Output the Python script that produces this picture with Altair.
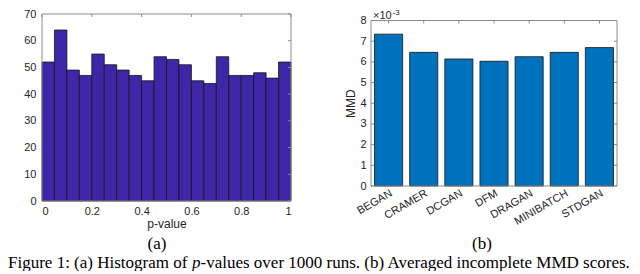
import altair as alt
import pandas as pd

# ---------------- data ----------------
# (a) histogram of p-values (20 bins)
bin_start = [0.00, 0.05, 0.10, 0.15, 0.20, 0.25, 0.30, 0.35, 0.40, 0.45,
             0.50, 0.55, 0.60, 0.65, 0.70, 0.75, 0.80, 0.85, 0.90, 0.95]
bin_end = [0.05, 0.10, 0.15, 0.20, 0.25, 0.30, 0.35, 0.40, 0.45, 0.50,
           0.55, 0.60, 0.65, 0.70, 0.75, 0.80, 0.85, 0.90, 0.95, 1.00]
counts = [52, 64, 49, 47, 55, 51, 49, 47, 45, 54,
          53, 51, 45, 44, 54, 47, 47, 48, 46, 52]
hist_x_ticks = [0, 0.2, 0.4, 0.6, 0.8, 1.0]
hist_y_ticks = [0, 10, 20, 30, 40, 50, 60, 70]

# (b) averaged incomplete MMD scores (x 10^-3)
methods = ["BEGAN", "CRAMER", "DCGAN", "DFM", "DRAGAN", "MINIBATCH", "STDGAN"]
mmd = [7.34, 6.46, 6.14, 6.03, 6.25, 6.46, 6.69]
mmd_y_ticks = [0, 1, 2, 3, 4, 5, 6, 7, 8]

# text
sub_a = "(a)"
sub_b = "(b)"
cap_parts = ["Figure 1: (a) Histogram of", "p",
             "-values over 1000 runs. (b) Averaged incomplete MMD scores."]

# ---------------- style ----------------
SANS = "Liberation Sans"
SERIF = "Liberation Serif"
TXT = "#262626"
FRAME = "#8c8c8c"
HIST_FILL = "#3E26A8"
BAR_FILL = "#0072BD"
EDGE = "#151515"

LW, LH = 249, 187
RW, RH = 246, 172
R_TOP = 6.5
TK = 3
CAP_Y = 253.5
SUB_Y = 234.5

one = pd.DataFrame({"k": [0]})

# ---------------- panel (a) ----------------
hist_df = pd.DataFrame({"p": bin_start, "p2": bin_end, "n": counts})
xs = alt.Scale(domain=[0, 1], nice=False, zero=False)
ys = alt.Scale(domain=[0, 70], nice=False)
yt = pd.DataFrame({"n": hist_y_ticks})
xt = pd.DataFrame({"p": hist_x_ticks})

ax_a_x = alt.Axis(values=hist_x_ticks, format="~g", title="p-value",
                  labelPadding=4, titlePadding=2, labelOverlap=False)
ax_a_y = alt.Axis(values=hist_y_ticks, format="d", title=None,
                  labelPadding=6, labelOverlap=False)
AX = alt.X("p:Q", scale=xs, axis=ax_a_x)
AY = alt.Y("n:Q", scale=ys, axis=ax_a_y)

a_bars = alt.Chart(hist_df).mark_bar(
    color=HIST_FILL, stroke=EDGE, strokeWidth=0.8
).encode(x=AX, x2="p2:Q", y=AY, y2=alt.datum(0))
a_tick_r = alt.Chart(yt).mark_rule(color=FRAME, strokeWidth=1).encode(
    y=AY, x=alt.value(LW - TK), x2=alt.value(LW))
a_tick_t = alt.Chart(xt).mark_rule(color=FRAME, strokeWidth=1).encode(
    x=AX, y=alt.value(0), y2=alt.value(TK))
a_frame = alt.Chart(one).mark_rect(fill=None, filled=False, stroke=FRAME,
                                   strokeWidth=1).encode(
    x=alt.value(0), x2=alt.value(LW), y=alt.value(0), y2=alt.value(LH))


def txt(s, x, y, size=17, font=SERIF, align="left", style="normal", color="black"):
    return alt.Chart(one).mark_text(
        text=s, font=font, fontSize=size, align=align, baseline="alphabetic",
        fontStyle=style, color=color
    ).encode(x=alt.value(x), y=alt.value(y))


a_label = txt(sub_a, 115, SUB_Y, align="center")
cap = [
    txt(cap_parts[0], -34, CAP_Y),
    txt(cap_parts[1], 150, CAP_Y, style="italic"),
    txt(cap_parts[2], 158.5, CAP_Y),
]

left = alt.layer(a_bars, a_tick_r, a_tick_t, a_frame, a_label, *cap).properties(
    width=LW, height=LH)

# ---------------- panel (b) ----------------
mmd_df = pd.DataFrame({"method": methods, "mmd": mmd})
bx = alt.Scale(domain=methods, paddingInner=0.2, paddingOuter=0.1)
by = alt.Scale(domain=[0, 8], range=[RH, R_TOP], nice=False)
mt = pd.DataFrame({"method": methods})
myt = pd.DataFrame({"mmd": mmd_y_ticks})

ax_b_x = alt.Axis(title=None, labelAngle=-30, labelAlign="right",
                  labelBaseline="top", labelPadding=1, labelOverlap=False)
ax_b_y = alt.Axis(values=mmd_y_ticks, format="d", title="MMD",
                  labelPadding=5, titlePadding=2, labelOverlap=False)
BX = alt.X("method:N", scale=bx, sort=methods, axis=ax_b_x)
BY = alt.Y("mmd:Q", scale=by, axis=ax_b_y)

b_tick_l = alt.Chart(myt).mark_rule(color=FRAME, strokeWidth=1).encode(
    y=BY, x=alt.value(0), x2=alt.value(TK))
b_tick_b = alt.Chart(mt).mark_rule(color=FRAME, strokeWidth=1).encode(
    x=BX, y=alt.value(RH - TK), y2=alt.value(RH))
b_bars = alt.Chart(mmd_df).mark_bar(
    color=BAR_FILL, stroke=EDGE, strokeWidth=0.8
).encode(x=BX, y=BY)
b_tick_r = alt.Chart(myt).mark_rule(color=FRAME, strokeWidth=1).encode(
    y=BY, x=alt.value(RW - TK), x2=alt.value(RW))
b_tick_t = alt.Chart(mt).mark_rule(color=FRAME, strokeWidth=1).encode(
    x=BX, y=alt.value(R_TOP), y2=alt.value(R_TOP + TK))
b_frame = alt.Chart(one).mark_rect(fill=None, filled=False, stroke=FRAME,
                                   strokeWidth=1).encode(
    x=alt.value(0), x2=alt.value(RW), y=alt.value(R_TOP), y2=alt.value(RH))
b_exp1 = txt("\u00d710", 2, 4.5, size=11, font=SANS, color=TXT)
b_exp2 = txt("-3", 21.5, 0.5, size=8, font=SANS, color=TXT)
b_label = txt(sub_b, 111, SUB_Y, align="center")

right = alt.layer(b_tick_l, b_tick_b, b_bars, b_tick_r, b_tick_t, b_frame,
                  b_exp1, b_exp2, b_label).properties(width=RW, height=RH)

chart = alt.hconcat(left, right, spacing=80, bounds="flush").properties(
    padding=0
).configure_view(stroke=None).configure_axis(
    labelFont=SANS, labelFontSize=11, labelColor=TXT,
    titleFont=SANS, titleFontSize=12, titleFontWeight="normal", titleColor=TXT,
    domain=False, ticks=False, tickSize=0, grid=False, labelOverlap=False,
)

chart.save("out.html", embed_options={"renderer": "svg", "actions": False})
